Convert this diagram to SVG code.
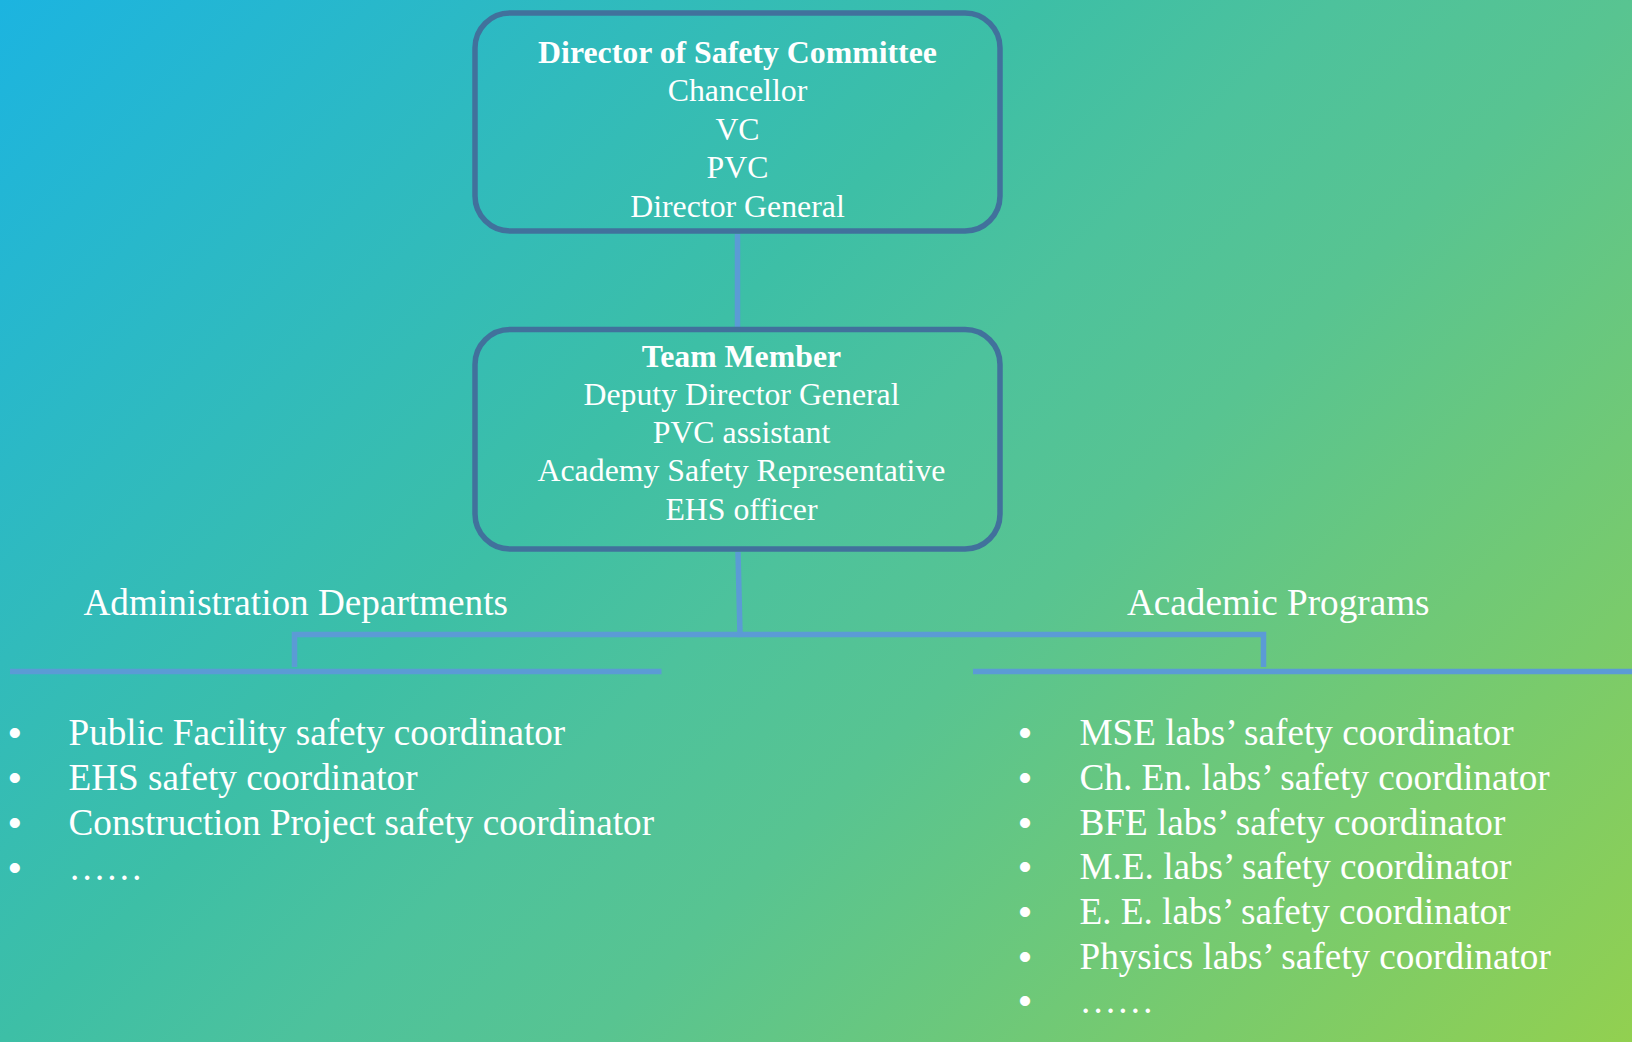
<svg xmlns="http://www.w3.org/2000/svg" width="1632" height="1042" viewBox="0 0 1632 1042">
  <defs>
    <linearGradient id="bg" gradientUnits="userSpaceOnUse" x1="0" y1="0" x2="1337" y2="1337">
      <stop offset="0" stop-color="#1CB4E0"/>
      <stop offset="0.39" stop-color="#3DBFA6"/>
      <stop offset="0.5" stop-color="#4DC29C"/>
      <stop offset="0.61" stop-color="#58C491"/>
      <stop offset="1" stop-color="#92D050"/>
    </linearGradient>
    <style>
      .box { fill: none; stroke: #41719C; stroke-width: 5.5; }
      .link { fill: none; stroke: #5B9BD5; stroke-width: 5.5; stroke-linecap: butt; stroke-linejoin: miter; }
      .t { font-family: "Liberation Serif", "Times New Roman", serif; fill: #FFFFFF; }
      .boxtext { font-size: 31.8px; text-anchor: middle; }
      .head { font-weight: bold; }
      .big { font-size: 37.2px; }
      .bullet { font-family: "Liberation Sans", Arial, sans-serif; font-size: 37.2px; fill: #FFFFFF; text-anchor: middle; }
    </style>
  </defs>

  <!-- background -->
  <rect x="0" y="0" width="1632" height="1042" fill="url(#bg)"/>

  <!-- connectors -->
  <g id="connectors">
    <line class="link" x1="737.5" y1="234" x2="737.5" y2="327"/>
    <polyline class="link" points="738,552 740,634.5 1263.5,634.5 1263.5,667"/>
    <polyline class="link" points="740,634.5 294.5,634.5 294.5,667"/>
    <line class="link" x1="10" y1="671.5" x2="661.5" y2="671.5"/>
    <line class="link" x1="973" y1="671.5" x2="1632" y2="671.5"/>
  </g>

  <!-- top node -->
  <g id="director-committee">
    <rect class="box" x="475" y="13" width="525" height="218" rx="35" ry="35"/>
    <text class="t boxtext head" x="737.5" y="62.5">Director of Safety Committee</text>
    <text class="t boxtext" x="737.5" y="101">Chancellor</text>
    <text class="t boxtext" x="737.5" y="139.5">VC</text>
    <text class="t boxtext" x="737.5" y="178">PVC</text>
    <text class="t boxtext" x="737.5" y="216.5">Director General</text>
  </g>

  <!-- middle node -->
  <g id="team-member">
    <rect class="box" x="475" y="329.5" width="525" height="219.5" rx="35" ry="35"/>
    <text class="t boxtext head" x="741.5" y="366.5">Team Member</text>
    <text class="t boxtext" x="741.5" y="405">Deputy Director General</text>
    <text class="t boxtext" x="741.5" y="443">PVC assistant</text>
    <text class="t boxtext" x="741.5" y="481">Academy Safety Representative</text>
    <text class="t boxtext" x="741.5" y="519.5">EHS officer</text>
  </g>

  <!-- left branch -->
  <g id="administration">
    <text class="t big" x="83.5" y="615">Administration Departments</text>
    <g>
      <text class="bullet" x="14.7" y="745">•</text>
      <text class="bullet" x="14.7" y="790">•</text>
      <text class="bullet" x="14.7" y="835">•</text>
      <text class="bullet" x="14.7" y="880">•</text>
    </g>
    <text class="t big" x="68.5" y="745">Public Facility safety coordinator</text>
    <text class="t big" x="68.5" y="790">EHS safety coordinator</text>
    <text class="t big" x="68.5" y="835">Construction Project safety coordinator</text>
    <text class="t big" x="68.5" y="880">……</text>
  </g>

  <!-- right branch -->
  <g id="academic">
    <text class="t big" x="1127" y="615">Academic Programs</text>
    <g>
      <text class="bullet" x="1025" y="745">•</text>
      <text class="bullet" x="1025" y="790">•</text>
      <text class="bullet" x="1025" y="834.5">•</text>
      <text class="bullet" x="1025" y="879">•</text>
      <text class="bullet" x="1025" y="924">•</text>
      <text class="bullet" x="1025" y="968.5">•</text>
      <text class="bullet" x="1025" y="1013">•</text>
    </g>
    <text class="t big" x="1079.5" y="745">MSE labs’ safety coordinator</text>
    <text class="t big" x="1079.5" y="790">Ch. En. labs’ safety coordinator</text>
    <text class="t big" x="1079.5" y="834.5">BFE labs’ safety coordinator</text>
    <text class="t big" x="1079.5" y="879">M.E. labs’ safety coordinator</text>
    <text class="t big" x="1079.5" y="924">E. E. labs’ safety coordinator</text>
    <text class="t big" x="1079.5" y="968.5">Physics labs’ safety coordinator</text>
    <text class="t big" x="1079.5" y="1013">……</text>
  </g>
</svg>
